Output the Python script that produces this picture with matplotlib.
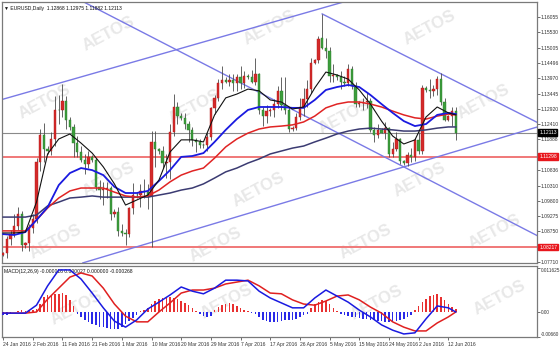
import numpy as np
import matplotlib.pyplot as plt

plt.rcParams['font.family'] = ['Liberation Sans', 'DejaVu Sans']

# Daily EURUSD bars, 24 Jan 2016 (Sunday bar) .. 14 Jun 2016
opens = [1.0796, 1.0800, 1.0850, 1.0868, 1.0895, 1.0935, 1.0830, 1.0835, 1.0887, 1.0918,
         1.1110, 1.1205, 1.1157, 1.1150, 1.1190, 1.1290, 1.1288, 1.1320, 1.1255, 1.1230,
         1.1175, 1.1145, 1.1120, 1.1105, 1.1130, 1.1118, 1.1025, 1.1015, 1.1020, 1.1022,
         1.0935, 1.0943, 1.0875, 1.0870, 1.0865, 1.0955, 1.1000, 1.0998, 1.1013, 1.1010,
         1.0995, 1.1180, 1.1155, 1.1150, 1.1107, 1.1110, 1.1215, 1.1300, 1.1270, 1.1262,
         1.1242, 1.1220, 1.1185, 1.1180, 1.1170, 1.1168, 1.1197, 1.1295, 1.1330, 1.1380,
         1.1392, 1.1385, 1.1390, 1.1380, 1.1400, 1.1380, 1.1405, 1.1400, 1.1385, 1.1410,
         1.1290, 1.1270, 1.1285, 1.1290, 1.1310, 1.1355, 1.1305, 1.1290, 1.1225, 1.1228,
         1.1265, 1.1300, 1.1325, 1.1360, 1.1450, 1.1458, 1.1535, 1.1500, 1.1490, 1.1405,
         1.1408, 1.1400, 1.1385, 1.1380, 1.1430, 1.1370, 1.1310, 1.1312, 1.1315, 1.1318,
         1.1220, 1.1205, 1.1222, 1.1212, 1.1228, 1.1140, 1.1157, 1.1190, 1.1115, 1.1108,
         1.1135, 1.1130, 1.1185, 1.1150, 1.1365, 1.1358, 1.1355, 1.1360, 1.1395, 1.1315,
         1.1255, 1.1268, 1.12868]
highs = [1.0805, 1.0860, 1.0880, 1.0935, 1.0958, 1.0945, 1.0840, 1.0900, 1.0935, 1.1125,
         1.1225, 1.1245, 1.1165, 1.1215, 1.1335, 1.1340, 1.1376, 1.1338, 1.1265, 1.1240,
         1.1200, 1.1165, 1.1140, 1.1150, 1.1135, 1.1125, 1.1050, 1.1045, 1.1045, 1.1030,
         1.0950, 1.0958, 1.0900, 1.0885, 1.0960, 1.1040, 1.1008, 1.1035, 1.1055, 1.1035,
         1.1218, 1.1218, 1.1160, 1.1165, 1.1140, 1.1240, 1.1342, 1.1315, 1.1280, 1.1280,
         1.1250, 1.1230, 1.1195, 1.1190, 1.1175, 1.1210, 1.1300, 1.1340, 1.1395, 1.1440,
         1.1400, 1.1410, 1.1410, 1.1410, 1.1440, 1.1420, 1.1412, 1.1425, 1.1465, 1.1415,
         1.1300, 1.1305, 1.1295, 1.1325, 1.1370, 1.1400, 1.1400, 1.1300, 1.1235, 1.1280,
         1.1330, 1.1365, 1.1390, 1.1465, 1.1462, 1.1540, 1.1616, 1.1535, 1.1505, 1.1445,
         1.1412, 1.1420, 1.1405, 1.1445, 1.1440, 1.1385, 1.1318, 1.1330, 1.1350, 1.1330,
         1.1230, 1.1240, 1.1228, 1.1248, 1.1232, 1.1180, 1.1215, 1.1195, 1.1118, 1.1145,
         1.1160, 1.1195, 1.1215, 1.1375, 1.1372, 1.1395, 1.1375, 1.1405, 1.1416, 1.1330,
         1.1272, 1.1298, 1.12975]
lows = [1.0790, 1.0785, 1.0830, 1.0855, 1.0880, 1.0810, 1.0820, 1.0810, 1.0870, 1.0905,
        1.1080, 1.1110, 1.1140, 1.1135, 1.1165, 1.1240, 1.1265, 1.1225, 1.1220, 1.1130,
        1.1130, 1.1110, 1.1070, 1.1090, 1.1110, 1.1015, 1.0985, 1.0965, 1.0990, 1.0915,
        1.0925, 1.0860, 1.0860, 1.0828, 1.0855, 1.0935, 1.0990, 1.0960, 1.0990, 1.0950,
        1.0822, 1.1095, 1.1140, 1.1090, 1.1058, 1.1055, 1.1200, 1.1240, 1.1255, 1.1225,
        1.1180, 1.1165, 1.1145, 1.1160, 1.1160, 1.1150, 1.1185, 1.1275, 1.1320, 1.1360,
        1.1380, 1.1370, 1.1355, 1.1355, 1.1360, 1.1365, 1.1395, 1.1380, 1.1375, 1.1275,
        1.1234, 1.1245, 1.1270, 1.1265, 1.1295, 1.1290, 1.1275, 1.1215, 1.1218, 1.1220,
        1.1255, 1.1270, 1.1300, 1.1345, 1.1445, 1.1450, 1.1495, 1.1465, 1.1385, 1.1385,
        1.1392, 1.1360, 1.1370, 1.1370, 1.1360, 1.1300, 1.1300, 1.1290, 1.1295, 1.1215,
        1.1180, 1.1195, 1.1210, 1.1190, 1.1130, 1.1130, 1.1150, 1.1105, 1.1102, 1.1098,
        1.1110, 1.1115, 1.1140, 1.1140, 1.1350, 1.1330, 1.1335, 1.1340, 1.1305, 1.1250,
        1.1250, 1.1235, 1.11882]
closes = [1.0800, 1.0850, 1.0868, 1.0895, 1.0935, 1.0830, 1.0835, 1.0887, 1.0918, 1.1110,
          1.1205, 1.1157, 1.1150, 1.1190, 1.1290, 1.1288, 1.1320, 1.1255, 1.1230, 1.1175,
          1.1145, 1.1120, 1.1105, 1.1130, 1.1118, 1.1025, 1.1015, 1.1020, 1.1022, 1.0935,
          1.0943, 1.0875, 1.0870, 1.0865, 1.0955, 1.1000, 1.0998, 1.1013, 1.1010, 1.0995,
          1.1180, 1.1155, 1.1150, 1.1107, 1.1110, 1.1215, 1.1300, 1.1270, 1.1262, 1.1242,
          1.1220, 1.1185, 1.1180, 1.1170, 1.1168, 1.1197, 1.1295, 1.1330, 1.1380, 1.1392,
          1.1385, 1.1390, 1.1380, 1.1400, 1.1380, 1.1405, 1.1400, 1.1385, 1.1410, 1.1290,
          1.1270, 1.1285, 1.1290, 1.1310, 1.1355, 1.1305, 1.1290, 1.1225, 1.1228, 1.1265,
          1.1300, 1.1325, 1.1360, 1.1450, 1.1458, 1.1530, 1.1500, 1.1490, 1.1405, 1.1408,
          1.1400, 1.1385, 1.1380, 1.1430, 1.1370, 1.1310, 1.1312, 1.1315, 1.1318, 1.1220,
          1.1205, 1.1222, 1.1212, 1.1228, 1.1140, 1.1157, 1.1190, 1.1115, 1.1108, 1.1135,
          1.1130, 1.1185, 1.1150, 1.1365, 1.1358, 1.1355, 1.1360, 1.1395, 1.1315, 1.1255,
          1.1268, 1.1287, 1.12113]

# moving averages, read every 3rd bar
ma_idx = list(range(0, 121, 3)) + [122]
ma_fast = [1.0870, 1.0870, 1.0873, 1.0975, 1.1139, 1.1190, 1.1207, 1.1176, 1.1142, 1.1095,
           1.1037, 1.0965, 1.0982, 1.0999, 1.1050, 1.1146, 1.1187, 1.1187, 1.1180, 1.1272,
           1.1330, 1.1343, 1.1360, 1.1354, 1.1323, 1.1316, 1.1292, 1.1299, 1.1364, 1.1418,
           1.1408, 1.1394, 1.1357, 1.1309, 1.1251, 1.1200, 1.1173, 1.1187, 1.1265, 1.1299,
           1.1279, 1.1272]
ma_blue = [1.0866, 1.0863, 1.0873, 1.0914, 1.0958, 1.1033, 1.1074, 1.1091, 1.1084, 1.1067,
           1.1027, 1.1006, 1.1006, 1.1013, 1.1047, 1.1084, 1.1129, 1.1132, 1.1142, 1.1180,
           1.1221, 1.1258, 1.1289, 1.1299, 1.1299, 1.1299, 1.1296, 1.1296, 1.1323, 1.1357,
           1.1367, 1.1374, 1.1367, 1.1340, 1.1309, 1.1279, 1.1251, 1.1234, 1.1241, 1.1272,
           1.1279, 1.1275]
ma_red = [1.0877, 1.0877, 1.0877, 1.0914, 1.0955, 1.0989, 1.1013, 1.1023, 1.1023, 1.1023,
          1.1009, 1.0996, 1.0992, 1.0996, 1.1016, 1.1044, 1.1067, 1.1081, 1.1091, 1.1125,
          1.1163, 1.1190, 1.1210, 1.1224, 1.1231, 1.1234, 1.1238, 1.1248, 1.1268, 1.1296,
          1.1309, 1.1316, 1.1316, 1.1309, 1.1299, 1.1285, 1.1272, 1.1262, 1.1258, 1.1268,
          1.1275, 1.1272]
ma_slow = [1.0924, 1.0924, 1.0924, 1.0931, 1.0962, 1.0975, 1.0989, 1.0992, 1.0996, 1.0992,
           1.0992, 1.0992, 1.0992, 1.0992, 1.0999, 1.1006, 1.1016, 1.1023, 1.1037, 1.1057,
           1.1078, 1.1091, 1.1108, 1.1122, 1.1139, 1.1149, 1.1159, 1.1166, 1.1180, 1.1193,
           1.1207, 1.1217, 1.1224, 1.1227, 1.1224, 1.1221, 1.1217, 1.1217, 1.1221, 1.1227,
           1.1231, 1.1231]

# MACD(12,26,9)
macd_main = [-0.0003, -0.0003, -0.0003, 0.0018, 0.0069, 0.0111, 0.0111, 0.0087, 0.0050, 0.0011,
             -0.0024, -0.0040, -0.0021, 0.0008, 0.0026, 0.0045, 0.0066, 0.0055, 0.0048, 0.0063,
             0.0084, 0.0084, 0.0082, 0.0055, 0.0037, 0.0024, 0.0011, 0.0011, 0.0037, 0.0058,
             0.0042, 0.0026, 0.0005, -0.0013, -0.0034, -0.0048, -0.0058, -0.0055, -0.0018, 0.0016,
             0.0011, 0.0000]
macd_signal = [-0.0003, -0.0003, -0.0003, 0.0000, 0.0034, 0.0063, 0.0092, 0.0103, 0.0095, 0.0063,
               0.0021, -0.0011, -0.0026, -0.0026, 0.0000, 0.0024, 0.0050, 0.0058, 0.0058, 0.0063,
               0.0074, 0.0079, 0.0084, 0.0069, 0.0050, 0.0048, 0.0032, 0.0021, 0.0018, 0.0029,
               0.0042, 0.0045, 0.0032, 0.0013, -0.0003, -0.0026, -0.0040, -0.0050, -0.0050, -0.0029,
               -0.0013, 0.0000]
macd_hist = [-0.0008, -0.0008, -0.0005, 0.0000, 0.0003, 0.0005, 0.0003, 0.0005, 0.0005,
             0.0008, 0.0021, 0.0040, 0.0045, 0.0045, 0.0048, 0.0048, 0.0050, 0.0045, 0.0032, 0.0016,
             -0.0005, -0.0013, -0.0021, -0.0026, -0.0032, -0.0034, -0.0040, -0.0040, -0.0042,
             -0.0045, -0.0045, -0.0045, -0.0040, -0.0032, -0.0024, -0.0016, -0.0008,
             0.0003, 0.0005, 0.0011, 0.0021, 0.0029, 0.0034, 0.0037, 0.0040, 0.0040, 0.0037,
             0.0034, 0.0029, 0.0024, 0.0018, 0.0011, 0.0003,
             -0.0005, -0.0011, -0.0013, -0.0011,
             0.0005, 0.0013, 0.0018, 0.0021, 0.0024, 0.0021, 0.0016, 0.0011, 0.0005,
             0.0003, -0.0003,
             -0.0005, -0.0013, -0.0021, -0.0024, -0.0026, -0.0026, -0.0026, -0.0024, -0.0021,
             -0.0021, -0.0021, -0.0018, -0.0013, -0.0008, -0.0005,
             0.0011, 0.0021, 0.0026, 0.0032, 0.0029, 0.0021, 0.0011,
             0.0003,
             -0.0005, -0.0008, -0.0011, -0.0013, -0.0013, -0.0016, -0.0018, -0.0018, -0.0021,
             -0.0021, -0.0024, -0.0024, -0.0026, -0.0026, -0.0026, -0.0024, -0.0021, -0.0018,
             -0.0013, -0.0008,
             0.0005, 0.0016, 0.0026, 0.0034, 0.0042, 0.0045, 0.0048, 0.0040, 0.0032, 0.0021,
             0.0013, 0.0008]

# trend lines as (bar, price) anchor pairs
trend_lines = [((-1, 1.1322), (96, 1.1672)),
               ((20.75, 1.1663), (144.7, 1.0856)),
               ((86, 1.1616), (144.2, 1.1245)),
               ((21.5, 1.0768), (144.0, 1.1231))]
support_levels = [1.11298, 1.08217]
last_price = 1.12113

price_ticks = [1.16055, 1.15530, 1.15005, 1.14496, 1.13970, 1.13445, 1.12920, 1.12410,
               1.11888, 1.10836, 1.10310, 1.09800, 1.09275, 1.08750, 1.07710]
date_pos = list(range(0, 121, 8))
date_labels = ['24 Jan 2016', '2 Feb 2016', '11 Feb 2016', '21 Feb 2016', '1 Mar 2016',
               '10 Mar 2016', '20 Mar 2016', '29 Mar 2016', '7 Apr 2016', '17 Apr 2016',
               '26 Apr 2016', '5 May 2016', '15 May 2016', '24 May 2016', '2 Jun 2016',
               '12 Jun 2016']

bars = np.arange(len(closes))
o = np.array(opens); h = np.array(highs); l = np.array(lows); c = np.array(closes)

W, H = 560, 350
fig = plt.figure(figsize=(5.6, 3.5), dpi=100)
fig.patch.set_facecolor('white')
ax = fig.add_axes([2 / W, 1 - 263 / H, 535 / W, 261 / H])
axm = fig.add_axes([2 / W, 1 - 337 / H, 535 / W, 71 / H])

fs = 3.6
for a in (ax, axm):
    a.set_xlim(-0.3, 143.9)
    for s in a.spines.values():
        s.set_color('#7a7a7a')
        s.set_linewidth(0.9)
    a.yaxis.tick_right()
    a.tick_params(axis='y', length=2, width=0.5, colors='#333333', labelsize=fs, pad=0.8)
    a.yaxis.get_offset_text().set_visible(False)

ax.set_ylim(1.07676, 1.16566)
axm.set_ylim(-0.0066, 0.01214)

# watermark
for a, spots in ((ax, [(0.2, 0.88), (0.5, 0.9), (0.8, 0.9), (0.08, 0.62), (0.36, 0.6),
                       (0.64, 0.56), (0.9, 0.62), (0.2, 0.32), (0.48, 0.28), (0.78, 0.32),
                       (0.1, 0.08), (0.4, 0.07), (0.68, 0.08), (0.92, 0.12)]),
                 (axm, [(0.14, 0.42), (0.42, 0.5), (0.7, 0.48), (0.93, 0.55)])):
    for x, y in spots:
        a.text(x, y, 'AETOS', transform=a.transAxes, fontsize=12, fontweight='bold',
               color='#e8e8e8', rotation=28, ha='center', va='center', zorder=0, clip_on=True)

# candles
up = c >= o
ax.vlines(bars, l, h, color='#4a4a4a', lw=0.6, zorder=3)
body_lo = np.minimum(o, c)
body_h = np.maximum(np.abs(c - o), 0.00006)
ax.bar(bars[up], body_h[up], bottom=body_lo[up], width=0.62, color='#d42a2a',
       edgecolor='#b01818', lw=0.3, zorder=4)
ax.bar(bars[~up], body_h[~up], bottom=body_lo[~up], width=0.62, color='#3c9e3c',
       edgecolor='#2a7a2a', lw=0.3, zorder=4)

# moving averages
ax.plot(ma_idx, ma_slow, color='#3b3b72', lw=1.1, zorder=5)
ax.plot(ma_idx, ma_red, color='#e02424', lw=1.1, zorder=5)
ax.plot(ma_idx, ma_blue, color='#1a1ae0', lw=1.3, zorder=5)
ax.plot(ma_idx, ma_fast, color='#111111', lw=0.8, zorder=6)

# horizontal levels and trend lines
for lvl in support_levels:
    ax.axhline(lvl, color='#f07878', lw=1.4, zorder=2)
ax.axhline(last_price, color='#8a8a8a', lw=0.8, zorder=2)
for (x0, y0), (x1, y1) in trend_lines:
    ax.plot([x0, x1], [y0, y1], color='#7a7ae6', lw=1.0, zorder=2)

ax.set_yticks(price_ticks)
ax.set_yticklabels(['%.5f' % v for v in price_ticks])
ax.set_xticks(date_pos)
ax.tick_params(axis='x', length=0, labelbottom=False)

for lvl, bg in ((last_price, '#000000'), (support_levels[0], '#e8161c'),
                (support_levels[1], '#e8161c')):
    ax.text(1.004, lvl, '%.5f' % lvl, transform=ax.get_yaxis_transform(), fontsize=fs,
            color='white', va='center', ha='left',
            bbox=dict(boxstyle='square,pad=0.15', fc=bg, ec=bg), clip_on=False)

ax.text(0.004, 0.985, '\u25bc EURUSD,Daily  %.5f %.5f %.5f %.5f' % (o[-1], h[-1], l[-1], c[-1]),
        transform=ax.transAxes, fontsize=fs, color='#111111', va='top', ha='left')
ax.text(462, 1.1654, '\u25bc', fontsize=3.5, color='#111111', ha='center', va='top')

# MACD panel
pos = np.array(macd_hist) > 0
hist = np.array(macd_hist)
axm.bar(bars[pos], hist[pos], width=0.42, color='#e83030', zorder=3)
axm.bar(bars[~pos], hist[~pos], width=0.42, color='#2a2ae8', zorder=3)
axm.plot(ma_idx, macd_signal, color='#e02020', lw=1.1, zorder=4)
axm.plot(ma_idx, macd_main, color='#1a1ae0', lw=1.1, zorder=4)
axm.set_yticks([0.011625, 0.0, -0.0066])
axm.set_yticklabels(['0.011625', '0.00', '-0.00660'], fontsize=3.4)
macd_labels = axm.get_yticklabels()
macd_labels[0].set_va('top')
macd_labels[2].set_va('bottom')
axm.text(0.004, 0.96, 'MACD(12,26,9) -0.000016 0.000027 0.000000 -0.000268',
         transform=axm.transAxes, fontsize=fs, color='#111111', va='top', ha='left')

axm.set_xticks(date_pos)
axm.set_xticklabels(date_labels, ha='left', fontsize=fs, color='#333333')
axm.tick_params(axis='x', length=2, width=0.5, pad=1.5, colors='#333333')

fig.savefig('out.png', dpi=100)
